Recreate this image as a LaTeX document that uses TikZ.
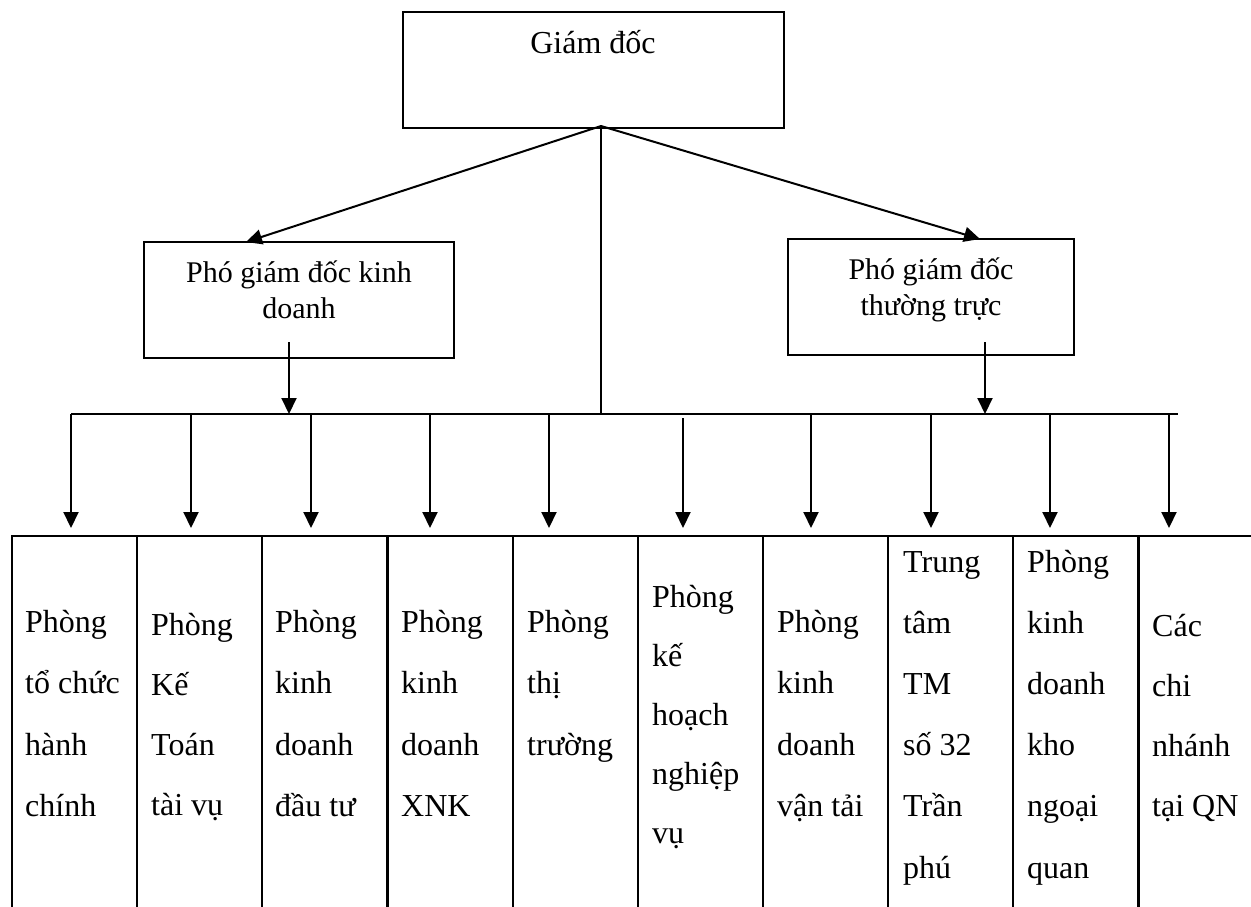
\documentclass[tikz,border=0pt]{standalone}
\usepackage{fontspec}
\setmainfont{Liberation Serif}
\usetikzlibrary{arrows.meta}

\tikzset{
  box/.style={draw, line width=2pt, inner sep=0pt},
  col/.style={box, anchor=north west, minimum width=125pt, minimum height=420pt},
  line/.style={line width=2pt},
  thin/.style={line width=1.2pt},
  arr/.style={line width=2pt, -{Triangle[width=15pt,length=16pt]}},
  coltext/.style={anchor=base west, inner sep=0pt},
}
\newcommand{\coltxt}[2][61.5]{\parbox[t]{112pt}{\fontsize{32}{#1}\selectfont #2}}

\begin{document}
\begin{tikzpicture}[x=1pt, y=-1pt]
  \path[use as bounding box] (0,0) rectangle (1251,906);
  \clip (0,0) rectangle (1251,906);

  % top level
  \node[box, minimum width=381pt, minimum height=116pt] (gd) at (593.5,70) {};
  \node[anchor=base, inner sep=0pt, font=\fontsize{32}{38}\selectfont] (gd-t) at (593,53) {Giám đốc};
  \coordinate (gd-o) at (601,126);

  % deputies
  \node[box, minimum width=310pt, minimum height=116pt] (pk) at (299,300) {};
  \node[anchor=base, inner sep=0pt] (pk-t) at (299,282)
    {\parbox[t]{300pt}{\centering\fontsize{30}{36}\selectfont Phó giám đốc kinh\\doanh}};
  \node[box, minimum width=286pt, minimum height=116pt] (pt) at (931,297) {};
  \node[anchor=base, inner sep=0pt] (pt-t) at (931,279)
    {\parbox[t]{280pt}{\centering\fontsize{30}{36}\selectfont Phó giám đốc\\thường trực}};
  \coordinate (pk-i) at (246,242);
  \coordinate (pt-i) at (980,239);
  \coordinate (pk-o) at (289,342);
  \coordinate (pt-o) at (985,342);

  \draw[arr] (gd-o) -- (pk-i);
  \draw[arr] (gd-o) -- (pt-i);

  % bus
  \coordinate (b1) at (71,414);
  \coordinate (b2) at (191,414);
  \coordinate (b3) at (311,414);
  \coordinate (b4) at (430,414);
  \coordinate (b5) at (549,414);
  \coordinate (b6) at (683,414);
  \coordinate (b7) at (811,414);
  \coordinate (b8) at (931,414);
  \coordinate (b9) at (1050,414);
  \coordinate (b10) at (1169,414);
  \coordinate (bend) at (1178,414);
  \draw[line] (b1) -- (bend);
  \draw[thin] (gd-o) -- (gd-o |- b1);
  \draw[arr] (pk-o) -- (pk-o |- b1);
  \draw[arr] (pt-o) -- (pt-o |- b1);

  % departments
  \node[col] (c1) at (11,535) {};
  \node[col] (c2) at (136,535) {};
  \node[col] (c3) at (261,535) {};
  \node[col] (c4) at (387,535) {};
  \node[col] (c5) at (512,535) {};
  \node[col] (c6) at (637,535) {};
  \node[col] (c7) at (762,535) {};
  \node[col] (c8) at (887,535) {};
  \node[col] (c9) at (1012,535) {};
  \node[col] (c10) at (1138,535) {};

  \node[coltext] (t1) at (25,632) {\coltxt{Phòng\\tổ chức\\hành\\chính}};
  \node[coltext] (t2) at (151,635) {\coltxt[60]{Phòng\\Kế\\Toán\\tài vụ}};
  \node[coltext] (t3) at (275,632) {\coltxt{Phòng\\kinh\\doanh\\đầu tư}};
  \node[coltext] (t4) at (401,632) {\coltxt{Phòng\\kinh\\doanh\\XNK}};
  \node[coltext] (t5) at (527,632) {\coltxt{Phòng\\thị\\trường}};
  \node[coltext] (t6) at (652,607) {\coltxt[59]{Phòng\\kế\\hoạch\\nghiệp\\vụ}};
  \node[coltext] (t7) at (777,632) {\coltxt{Phòng\\kinh\\doanh\\vận tải}};
  \node[coltext] (t8) at (903,572) {\coltxt[61.2]{Trung\\tâm\\TM\\số 32\\Trần\\phú}};
  \node[coltext] (t9) at (1027,572) {\coltxt[61.2]{Phòng\\kinh\\doanh\\kho\\ngoại\\quan}};
  \node[coltext] (t10) at (1152,636) {\coltxt[60]{Các\\chi\\nhánh\\tại QN}};

  \draw[arr, shorten >=7pt] (b1) -- (b1 |- c1.north);
  \draw[arr, shorten >=7pt] (b2) -- (b2 |- c2.north);
  \draw[arr, shorten >=7pt] (b3) -- (b3 |- c3.north);
  \draw[arr, shorten >=7pt] (b4) -- (b4 |- c4.north);
  \draw[arr, shorten >=7pt] (b5) -- (b5 |- c5.north);
  \draw[arr, shorten >=7pt, shorten <=4pt] (b6) -- (b6 |- c6.north);
  \draw[arr, shorten >=7pt] (b7) -- (b7 |- c7.north);
  \draw[arr, shorten >=7pt] (b8) -- (b8 |- c8.north);
  \draw[arr, shorten >=7pt] (b9) -- (b9 |- c9.north);
  \draw[arr, shorten >=7pt] (b10) -- (b10 |- c10.north);
\end{tikzpicture}
\end{document}
